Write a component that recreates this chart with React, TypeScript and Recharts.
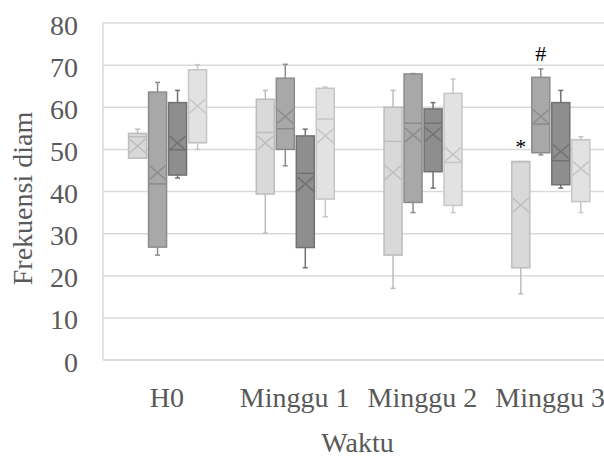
import React from "react";
import { ComposedChart, Bar, XAxis, YAxis, CartesianGrid } from "recharts";

const categories = ["H0", "Minggu 1", "Minggu 2", "Minggu 3"];
const yTicks = [0, 10, 20, 30, 40, 50, 60, 70, 80];

// rows = the four groups (left to right inside a category), cols = categories
const whiskerMin = [
  [47.9, 30.1, 17.0, 15.7],
  [24.9, 46.1, 35.0, 48.7],
  [43.2, 21.9, 40.8, 40.8],
  [50.0, 34.0, 35.0, 35.0],
];
const q1 = [
  [47.9, 39.4, 24.9, 21.9],
  [26.8, 50.0, 37.4, 49.2],
  [43.9, 26.7, 44.7, 41.6],
  [51.6, 38.2, 36.7, 37.6],
];
const median = [
  [53.0, 54.0, 51.9, 47.1],
  [41.8, 54.9, 56.2, 56.0],
  [49.9, 44.3, 56.2, 47.3],
  [51.6, 57.2, 46.9, 52.3],
];
const q3 = [
  [53.8, 61.9, 60.0, 47.1],
  [63.6, 66.9, 67.9, 67.1],
  [61.1, 53.2, 59.6, 61.1],
  [68.9, 64.5, 63.3, 52.3],
];
const whiskerMax = [
  [54.8, 64.0, 64.0, 47.1],
  [65.9, 70.2, 68.0, 69.1],
  [64.0, 54.8, 61.1, 64.0],
  [70.1, 64.8, 66.7, 53.0],
];
const mean = [
  [50.8, 51.5, 44.5, 36.8],
  [44.5, 57.8, 53.4, 57.8],
  [51.5, 41.8, 53.6, 49.5],
  [60.3, 53.2, 48.8, 45.5],
];
const marks = [
  ["", "", "", "*"],
  ["", "", "", "#"],
  ["", "", "", ""],
  ["", "", "", ""],
];

const fills = ["#d9d9d9", "#a8a8a8", "#8e8e8e", "#e2e2e2"];
const strokes = ["#bdbdbd", "#8b8b8b", "#717171", "#c6c6c6"];
const font = "'Liberation Serif', 'Times New Roman', serif";

const data = categories.map((cat, c) => {
  const row: any = { cat };
  whiskerMin.forEach((_, s) => {
    row["s" + s] = [whiskerMin[s][c], whiskerMax[s][c]];
  });
  return row;
});

function BoxShape(props: any) {
  const { x, width, index, s } = props;
  let { y, height } = props;
  if (height < 0) {
    y = y + height;
    height = -height;
  }
  const lo = whiskerMin[s][index];
  const hi = whiskerMax[s][index];
  const k = height / (hi - lo);
  const py = (v: number) => y + (hi - v) * k;
  const cx = x + width / 2;
  const top = py(q3[s][index]);
  const bot = py(q1[s][index]);
  const my = py(median[s][index]);
  const mn = py(mean[s][index]);
  const st = strokes[s];
  const sw = 1.5;
  const h = 7;
  return (
    <g>
      <line x1={cx} x2={cx} y1={y} y2={top} stroke={st} strokeWidth={sw} />
      <line x1={cx} x2={cx} y1={bot} y2={y + height} stroke={st} strokeWidth={sw} />
      <line x1={cx - 2.5} x2={cx + 2.5} y1={y} y2={y} stroke={st} strokeWidth={sw} />
      <line x1={cx - 2.5} x2={cx + 2.5} y1={y + height} y2={y + height} stroke={st} strokeWidth={sw} />
      <rect x={x} y={top} width={width} height={bot - top} fill={fills[s]} stroke={st} strokeWidth={sw} />
      <line x1={x} x2={x + width} y1={my} y2={my} stroke={st} strokeWidth={sw} />
      <line x1={x + 1} y1={mn - h} x2={x + width - 1} y2={mn + h} stroke={st} strokeWidth={sw} />
      <line x1={x + 1} y1={mn + h} x2={x + width - 1} y2={mn - h} stroke={st} strokeWidth={sw} />
      {marks[s][index] ? (
        <text x={cx} y={y - 8} textAnchor="middle" fontFamily={font} fontSize={22} fill="#000">
          {marks[s][index]}
        </text>
      ) : null}
    </g>
  );
}

function XTick(props: any) {
  const { x, y, payload } = props;
  return (
    <text x={x} y={y + 47} textAnchor="middle" fontFamily={font} fontSize={28} fill="#595959">
      {payload.value}
    </text>
  );
}

function YTick(props: any) {
  const { x, y, payload } = props;
  return (
    <text x={x - 25} y={y + 2} textAnchor="end" dominantBaseline="central" fontFamily={font} fontSize={28} fill="#595959">
      {payload.value}
    </text>
  );
}

export default function App() {
  return (
    <div style={{ position: "fixed", left: 0, top: 0, width: 604, height: 460, overflow: "hidden", background: "#fff" }}>
      <ComposedChart
        width={620}
        height={460}
        data={data}
        margin={{ top: 23, right: 6, bottom: 0, left: 0 }}
        barCategoryGap="20%"
        barGap={2}
      >
        <CartesianGrid horizontal vertical={false} stroke="#d9d9d9" strokeWidth={1.5} />
        <XAxis
          dataKey="cat"
          height={100}
          tickSize={0}
          tickMargin={0}
          tickLine={false}
          axisLine={{ stroke: "#d9d9d9", strokeWidth: 1.5 }}
          tick={<XTick />}
          label={() => (
            <text x={357.5} y={452} textAnchor="middle" fontFamily={font} fontSize={28} fill="#595959">
              Waktu
            </text>
          )}
        />
        <YAxis
          width={103}
          domain={[0, 80]}
          ticks={yTicks}
          interval={0}
          tickSize={0}
          tickMargin={0}
          tickLine={false}
          axisLine={{ stroke: "#d9d9d9", strokeWidth: 1.5 }}
          tick={<YTick />}
          label={() => (
            <text transform="translate(32,198.5) rotate(-90)" textAnchor="middle" fontFamily={font} fontSize={28} fill="#595959">
              Frekuensi diam
            </text>
          )}
        />
        {[0, 1, 2, 3].map((s) => (
          <Bar
            key={s}
            dataKey={"s" + s}
            isAnimationActive={false}
            shape={(p: any) => <BoxShape {...p} s={s} />}
          />
        ))}
      </ComposedChart>
    </div>
  );
}
